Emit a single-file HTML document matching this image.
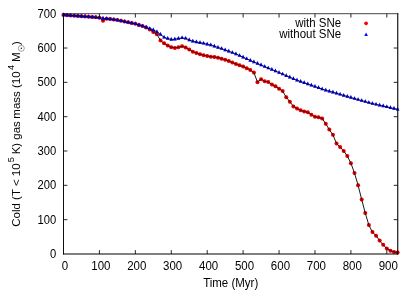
<!DOCTYPE html>
<html><head><meta charset="utf-8"><title>plot</title>
<style>html,body{margin:0;padding:0;background:#fff;}svg{display:block;}text{font-family:"Liberation Sans",sans-serif;font-size:11.5px;fill:#000;}</style></head>
<body>
<svg width="415" height="291" viewBox="0 0 415 291">
<rect width="415" height="291" fill="#fff"/>
<g fill="#ee0000">
<circle cx="63.50" cy="14.70" r="2.0"/><circle cx="67.09" cy="15.17" r="2.0"/><circle cx="70.68" cy="15.41" r="2.0"/><circle cx="74.28" cy="15.65" r="2.0"/><circle cx="77.87" cy="15.89" r="2.0"/><circle cx="81.46" cy="16.13" r="2.0"/><circle cx="85.05" cy="16.44" r="2.0"/><circle cx="88.65" cy="16.75" r="2.0"/><circle cx="92.24" cy="17.05" r="2.0"/><circle cx="95.83" cy="17.36" r="2.0"/><circle cx="99.42" cy="17.67" r="2.0"/><circle cx="103.02" cy="20.64" r="2.0"/><circle cx="106.61" cy="18.63" r="2.0"/><circle cx="110.20" cy="19.10" r="2.0"/><circle cx="113.79" cy="19.58" r="2.0"/><circle cx="117.39" cy="20.06" r="2.0"/><circle cx="120.98" cy="20.81" r="2.0"/><circle cx="124.57" cy="21.57" r="2.0"/><circle cx="128.16" cy="22.32" r="2.0"/><circle cx="131.76" cy="23.07" r="2.0"/><circle cx="135.35" cy="23.82" r="2.0"/><circle cx="138.94" cy="24.93" r="2.0"/><circle cx="142.53" cy="25.94" r="2.0"/><circle cx="146.13" cy="27.38" r="2.0"/><circle cx="149.72" cy="29.46" r="2.0"/><circle cx="153.31" cy="32.09" r="2.0"/><circle cx="156.90" cy="34.31" r="2.0"/><circle cx="160.50" cy="40.47" r="2.0"/><circle cx="164.09" cy="43.37" r="2.0"/><circle cx="167.68" cy="45.59" r="2.0"/><circle cx="171.27" cy="47.17" r="2.0"/><circle cx="174.87" cy="47.88" r="2.0"/><circle cx="178.46" cy="47.30" r="2.0"/><circle cx="182.05" cy="46.14" r="2.0"/><circle cx="185.64" cy="47.51" r="2.0"/><circle cx="189.24" cy="49.59" r="2.0"/><circle cx="192.83" cy="51.68" r="2.0"/><circle cx="196.42" cy="53.08" r="2.0"/><circle cx="200.01" cy="54.14" r="2.0"/><circle cx="203.61" cy="55.16" r="2.0"/><circle cx="207.20" cy="55.98" r="2.0"/><circle cx="210.79" cy="56.70" r="2.0"/><circle cx="214.38" cy="56.98" r="2.0"/><circle cx="217.98" cy="57.69" r="2.0"/><circle cx="221.57" cy="58.72" r="2.0"/><circle cx="225.16" cy="59.74" r="2.0"/><circle cx="228.75" cy="60.97" r="2.0"/><circle cx="232.35" cy="62.55" r="2.0"/><circle cx="235.94" cy="63.91" r="2.0"/><circle cx="239.53" cy="65.14" r="2.0"/><circle cx="243.12" cy="66.51" r="2.0"/><circle cx="246.72" cy="68.26" r="2.0"/><circle cx="250.31" cy="70.00" r="2.0"/><circle cx="253.90" cy="72.60" r="2.0"/><circle cx="257.49" cy="82.17" r="2.0"/><circle cx="261.09" cy="79.19" r="2.0"/><circle cx="264.68" cy="81.28" r="2.0"/><circle cx="268.27" cy="81.96" r="2.0"/><circle cx="271.86" cy="84.56" r="2.0"/><circle cx="275.46" cy="86.27" r="2.0"/><circle cx="279.05" cy="88.66" r="2.0"/><circle cx="282.64" cy="91.05" r="2.0"/><circle cx="286.23" cy="97.21" r="2.0"/><circle cx="289.83" cy="101.65" r="2.0"/><circle cx="293.42" cy="106.43" r="2.0"/><circle cx="297.01" cy="108.49" r="2.0"/><circle cx="300.60" cy="110.19" r="2.0"/><circle cx="304.20" cy="111.56" r="2.0"/><circle cx="307.79" cy="112.24" r="2.0"/><circle cx="311.38" cy="114.64" r="2.0"/><circle cx="314.97" cy="116.86" r="2.0"/><circle cx="318.57" cy="117.37" r="2.0"/><circle cx="322.16" cy="118.40" r="2.0"/><circle cx="325.75" cy="123.87" r="2.0"/><circle cx="329.34" cy="129.61" r="2.0"/><circle cx="332.94" cy="134.87" r="2.0"/><circle cx="336.53" cy="143.52" r="2.0"/><circle cx="340.12" cy="147.11" r="2.0"/><circle cx="343.71" cy="151.04" r="2.0"/><circle cx="347.31" cy="156.06" r="2.0"/><circle cx="350.90" cy="163.17" r="2.0"/><circle cx="354.49" cy="173.09" r="2.0"/><circle cx="358.08" cy="185.22" r="2.0"/><circle cx="361.68" cy="199.54" r="2.0"/><circle cx="365.27" cy="213.08" r="2.0"/><circle cx="368.86" cy="225.07" r="2.0"/><circle cx="372.45" cy="232.11" r="2.0"/><circle cx="376.05" cy="235.63" r="2.0"/><circle cx="379.64" cy="240.62" r="2.0"/><circle cx="383.23" cy="244.86" r="2.0"/><circle cx="386.82" cy="248.62" r="2.0"/><circle cx="390.42" cy="250.67" r="2.0"/><circle cx="394.01" cy="251.90" r="2.0"/><circle cx="397.60" cy="252.42" r="2.0"/>
</g>
<polyline fill="none" stroke="#000" stroke-width="0.9" points="63.50,14.70 67.09,15.17 70.68,15.41 74.28,15.65 77.87,15.89 81.46,16.13 85.05,16.44 88.65,16.75 92.24,17.05 95.83,17.36 99.42,17.67 103.02,20.64 106.61,18.63 110.20,19.10 113.79,19.58 117.39,20.06 120.98,20.81 124.57,21.57 128.16,22.32 131.76,23.07 135.35,23.82 138.94,24.93 142.53,25.94 146.13,27.38 149.72,29.46 153.31,32.09 156.90,34.31 160.50,40.47 164.09,43.37 167.68,45.59 171.27,47.17 174.87,47.88 178.46,47.30 182.05,46.14 185.64,47.51 189.24,49.59 192.83,51.68 196.42,53.08 200.01,54.14 203.61,55.16 207.20,55.98 210.79,56.70 214.38,56.98 217.98,57.69 221.57,58.72 225.16,59.74 228.75,60.97 232.35,62.55 235.94,63.91 239.53,65.14 243.12,66.51 246.72,68.26 250.31,70.00 253.90,72.60 257.49,82.17 261.09,79.19 264.68,81.28 268.27,81.96 271.86,84.56 275.46,86.27 279.05,88.66 282.64,91.05 286.23,97.21 289.83,101.65 293.42,106.43 297.01,108.49 300.60,110.19 304.20,111.56 307.79,112.24 311.38,114.64 314.97,116.86 318.57,117.37 322.16,118.40 325.75,123.87 329.34,129.61 332.94,134.87 336.53,143.52 340.12,147.11 343.71,151.04 347.31,156.06 350.90,163.17 354.49,173.09 358.08,185.22 361.68,199.54 365.27,213.08 368.86,225.07 372.45,232.11 376.05,235.63 379.64,240.62 383.23,244.86 386.82,248.62 390.42,250.67 394.01,251.90 397.60,252.42"/>
<g fill="#ee0000" fill-opacity="0.25">
<circle cx="63.50" cy="14.70" r="1.9"/><circle cx="67.09" cy="15.17" r="1.9"/><circle cx="70.68" cy="15.41" r="1.9"/><circle cx="74.28" cy="15.65" r="1.9"/><circle cx="77.87" cy="15.89" r="1.9"/><circle cx="81.46" cy="16.13" r="1.9"/><circle cx="85.05" cy="16.44" r="1.9"/><circle cx="88.65" cy="16.75" r="1.9"/><circle cx="92.24" cy="17.05" r="1.9"/><circle cx="95.83" cy="17.36" r="1.9"/><circle cx="99.42" cy="17.67" r="1.9"/><circle cx="103.02" cy="20.64" r="1.9"/><circle cx="106.61" cy="18.63" r="1.9"/><circle cx="110.20" cy="19.10" r="1.9"/><circle cx="113.79" cy="19.58" r="1.9"/><circle cx="117.39" cy="20.06" r="1.9"/><circle cx="120.98" cy="20.81" r="1.9"/><circle cx="124.57" cy="21.57" r="1.9"/><circle cx="128.16" cy="22.32" r="1.9"/><circle cx="131.76" cy="23.07" r="1.9"/><circle cx="135.35" cy="23.82" r="1.9"/><circle cx="138.94" cy="24.93" r="1.9"/><circle cx="142.53" cy="25.94" r="1.9"/><circle cx="146.13" cy="27.38" r="1.9"/><circle cx="149.72" cy="29.46" r="1.9"/><circle cx="153.31" cy="32.09" r="1.9"/><circle cx="156.90" cy="34.31" r="1.9"/><circle cx="160.50" cy="40.47" r="1.9"/><circle cx="164.09" cy="43.37" r="1.9"/><circle cx="167.68" cy="45.59" r="1.9"/><circle cx="171.27" cy="47.17" r="1.9"/><circle cx="174.87" cy="47.88" r="1.9"/><circle cx="178.46" cy="47.30" r="1.9"/><circle cx="182.05" cy="46.14" r="1.9"/><circle cx="185.64" cy="47.51" r="1.9"/><circle cx="189.24" cy="49.59" r="1.9"/><circle cx="192.83" cy="51.68" r="1.9"/><circle cx="196.42" cy="53.08" r="1.9"/><circle cx="200.01" cy="54.14" r="1.9"/><circle cx="203.61" cy="55.16" r="1.9"/><circle cx="207.20" cy="55.98" r="1.9"/><circle cx="210.79" cy="56.70" r="1.9"/><circle cx="214.38" cy="56.98" r="1.9"/><circle cx="217.98" cy="57.69" r="1.9"/><circle cx="221.57" cy="58.72" r="1.9"/><circle cx="225.16" cy="59.74" r="1.9"/><circle cx="228.75" cy="60.97" r="1.9"/><circle cx="232.35" cy="62.55" r="1.9"/><circle cx="235.94" cy="63.91" r="1.9"/><circle cx="239.53" cy="65.14" r="1.9"/><circle cx="243.12" cy="66.51" r="1.9"/><circle cx="246.72" cy="68.26" r="1.9"/><circle cx="250.31" cy="70.00" r="1.9"/><circle cx="253.90" cy="72.60" r="1.9"/><circle cx="257.49" cy="82.17" r="1.9"/><circle cx="261.09" cy="79.19" r="1.9"/><circle cx="264.68" cy="81.28" r="1.9"/><circle cx="268.27" cy="81.96" r="1.9"/><circle cx="271.86" cy="84.56" r="1.9"/><circle cx="275.46" cy="86.27" r="1.9"/><circle cx="279.05" cy="88.66" r="1.9"/><circle cx="282.64" cy="91.05" r="1.9"/><circle cx="286.23" cy="97.21" r="1.9"/><circle cx="289.83" cy="101.65" r="1.9"/><circle cx="293.42" cy="106.43" r="1.9"/><circle cx="297.01" cy="108.49" r="1.9"/><circle cx="300.60" cy="110.19" r="1.9"/><circle cx="304.20" cy="111.56" r="1.9"/><circle cx="307.79" cy="112.24" r="1.9"/><circle cx="311.38" cy="114.64" r="1.9"/><circle cx="314.97" cy="116.86" r="1.9"/><circle cx="318.57" cy="117.37" r="1.9"/><circle cx="322.16" cy="118.40" r="1.9"/><circle cx="325.75" cy="123.87" r="1.9"/><circle cx="329.34" cy="129.61" r="1.9"/><circle cx="332.94" cy="134.87" r="1.9"/><circle cx="336.53" cy="143.52" r="1.9"/><circle cx="340.12" cy="147.11" r="1.9"/><circle cx="343.71" cy="151.04" r="1.9"/><circle cx="347.31" cy="156.06" r="1.9"/><circle cx="350.90" cy="163.17" r="1.9"/><circle cx="354.49" cy="173.09" r="1.9"/><circle cx="358.08" cy="185.22" r="1.9"/><circle cx="361.68" cy="199.54" r="1.9"/><circle cx="365.27" cy="213.08" r="1.9"/><circle cx="368.86" cy="225.07" r="1.9"/><circle cx="372.45" cy="232.11" r="1.9"/><circle cx="376.05" cy="235.63" r="1.9"/><circle cx="379.64" cy="240.62" r="1.9"/><circle cx="383.23" cy="244.86" r="1.9"/><circle cx="386.82" cy="248.62" r="1.9"/><circle cx="390.42" cy="250.67" r="1.9"/><circle cx="394.01" cy="251.90" r="1.9"/><circle cx="397.60" cy="252.42" r="1.9"/>
</g>
<g fill="#0000f0">
<path d="M63.50 12.54L65.35 16.19L61.65 16.19Z"/><path d="M67.09 12.78L68.94 16.43L65.24 16.43Z"/><path d="M70.68 13.02L72.53 16.67L68.83 16.67Z"/><path d="M74.28 13.26L76.13 16.91L72.43 16.91Z"/><path d="M77.87 13.50L79.72 17.15L76.02 17.15Z"/><path d="M81.46 13.74L83.31 17.39L79.61 17.39Z"/><path d="M85.05 14.04L86.90 17.69L83.20 17.69Z"/><path d="M88.65 14.35L90.50 18.00L86.80 18.00Z"/><path d="M92.24 14.66L94.09 18.31L90.39 18.31Z"/><path d="M95.83 14.97L97.68 18.62L93.98 18.62Z"/><path d="M99.42 15.27L101.27 18.92L97.57 18.92Z"/><path d="M103.02 15.75L104.87 19.40L101.17 19.40Z"/><path d="M106.61 16.23L108.46 19.88L104.76 19.88Z"/><path d="M110.20 16.71L112.05 20.36L108.35 20.36Z"/><path d="M113.79 17.19L115.64 20.84L111.94 20.84Z"/><path d="M117.39 17.67L119.24 21.32L115.54 21.32Z"/><path d="M120.98 18.42L122.83 22.07L119.13 22.07Z"/><path d="M124.57 19.17L126.42 22.82L122.72 22.82Z"/><path d="M128.16 19.92L130.01 23.57L126.31 23.57Z"/><path d="M131.76 20.67L133.61 24.32L129.91 24.32Z"/><path d="M135.35 21.43L137.20 25.08L133.50 25.08Z"/><path d="M138.94 22.54L140.79 26.19L137.09 26.19Z"/><path d="M142.53 23.65L144.38 27.30L140.68 27.30Z"/><path d="M146.13 24.84L147.98 28.49L144.28 28.49Z"/><path d="M149.72 26.21L151.57 29.86L147.87 29.86Z"/><path d="M153.31 27.58L155.16 31.23L151.46 31.23Z"/><path d="M156.90 29.42L158.75 33.07L155.05 33.07Z"/><path d="M160.50 32.02L162.35 35.67L158.65 35.67Z"/><path d="M164.09 34.93L165.94 38.58L162.24 38.58Z"/><path d="M167.68 36.12L169.53 39.77L165.83 39.77Z"/><path d="M171.27 36.98L173.12 40.63L169.42 40.63Z"/><path d="M174.87 36.81L176.72 40.46L173.02 40.46Z"/><path d="M178.46 36.12L180.31 39.77L176.61 39.77Z"/><path d="M182.05 35.44L183.90 39.09L180.20 39.09Z"/><path d="M185.64 35.95L187.49 39.60L183.79 39.60Z"/><path d="M189.24 37.49L191.09 41.14L187.39 41.14Z"/><path d="M192.83 38.86L194.68 42.51L190.98 42.51Z"/><path d="M196.42 39.54L198.27 43.19L194.57 43.19Z"/><path d="M200.01 40.23L201.86 43.88L198.16 43.88Z"/><path d="M203.61 40.91L205.46 44.56L201.76 44.56Z"/><path d="M207.20 41.76L209.05 45.41L205.35 45.41Z"/><path d="M210.79 42.62L212.64 46.27L208.94 46.27Z"/><path d="M214.38 43.81L216.23 47.46L212.53 47.46Z"/><path d="M217.98 45.01L219.83 48.66L216.13 48.66Z"/><path d="M221.57 46.21L223.42 49.86L219.72 49.86Z"/><path d="M225.16 47.53L227.01 51.18L223.31 51.18Z"/><path d="M228.75 48.86L230.60 52.51L226.90 52.51Z"/><path d="M232.35 50.18L234.20 53.83L230.50 53.83Z"/><path d="M235.94 51.51L237.79 55.16L234.09 55.16Z"/><path d="M239.53 53.13L241.38 56.78L237.68 56.78Z"/><path d="M243.12 54.75L244.97 58.40L241.27 58.40Z"/><path d="M246.72 56.38L248.57 60.03L244.87 60.03Z"/><path d="M250.31 58.00L252.16 61.65L248.46 61.65Z"/><path d="M253.90 59.54L255.75 63.19L252.05 63.19Z"/><path d="M257.49 61.08L259.34 64.73L255.64 64.73Z"/><path d="M261.09 62.61L262.94 66.26L259.24 66.26Z"/><path d="M264.68 64.15L266.53 67.80L262.83 67.80Z"/><path d="M268.27 65.63L270.12 69.28L266.42 69.28Z"/><path d="M271.86 67.11L273.71 70.76L270.01 70.76Z"/><path d="M275.46 68.60L277.31 72.25L273.61 72.25Z"/><path d="M279.05 70.15L280.90 73.80L277.20 73.80Z"/><path d="M282.64 71.70L284.49 75.35L280.79 75.35Z"/><path d="M286.23 73.26L288.08 76.91L284.38 76.91Z"/><path d="M289.83 74.81L291.68 78.46L287.98 78.46Z"/><path d="M293.42 76.36L295.27 80.01L291.57 80.01Z"/><path d="M297.01 77.77L298.86 81.42L295.16 81.42Z"/><path d="M300.60 79.04L302.45 82.69L298.75 82.69Z"/><path d="M304.20 80.31L306.05 83.96L302.35 83.96Z"/><path d="M307.79 81.57L309.64 85.22L305.94 85.22Z"/><path d="M311.38 82.84L313.23 86.49L309.53 86.49Z"/><path d="M314.97 84.10L316.82 87.75L313.12 87.75Z"/><path d="M318.57 85.37L320.42 89.02L316.72 89.02Z"/><path d="M322.16 86.63L324.01 90.28L320.31 90.28Z"/><path d="M325.75 87.78L327.60 91.43L323.90 91.43Z"/><path d="M329.34 88.74L331.19 92.39L327.49 92.39Z"/><path d="M332.94 89.79L334.79 93.44L331.09 93.44Z"/><path d="M336.53 90.85L338.38 94.50L334.68 94.50Z"/><path d="M340.12 91.92L341.97 95.57L338.27 95.57Z"/><path d="M343.71 92.99L345.56 96.64L341.86 96.64Z"/><path d="M347.31 94.05L349.16 97.70L345.46 97.70Z"/><path d="M350.90 95.12L352.75 98.77L349.05 98.77Z"/><path d="M354.49 96.13L356.34 99.78L352.64 99.78Z"/><path d="M358.08 97.15L359.93 100.80L356.23 100.80Z"/><path d="M361.68 98.16L363.53 101.81L359.83 101.81Z"/><path d="M365.27 99.17L367.12 102.82L363.42 102.82Z"/><path d="M368.86 100.19L370.71 103.84L367.01 103.84Z"/><path d="M372.45 101.14L374.30 104.79L370.60 104.79Z"/><path d="M376.05 101.96L377.90 105.61L374.20 105.61Z"/><path d="M379.64 102.78L381.49 106.43L377.79 106.43Z"/><path d="M383.23 103.60L385.08 107.25L381.38 107.25Z"/><path d="M386.82 104.42L388.67 108.07L384.97 108.07Z"/><path d="M390.42 105.24L392.27 108.89L388.57 108.89Z"/><path d="M394.01 106.06L395.86 109.71L392.16 109.71Z"/><path d="M397.60 106.88L399.45 110.53L395.75 110.53Z"/>
</g>
<polyline fill="none" stroke="#000" stroke-width="0.9" points="63.50,14.99 67.09,15.23 70.68,15.47 74.28,15.71 77.87,15.95 81.46,16.19 85.05,16.49 88.65,16.80 92.24,17.11 95.83,17.42 99.42,17.72 103.02,18.20 106.61,18.68 110.20,19.16 113.79,19.64 117.39,20.12 120.98,20.87 124.57,21.62 128.16,22.37 131.76,23.12 135.35,23.88 138.94,24.99 142.53,26.10 146.13,27.29 149.72,28.66 153.31,30.03 156.90,31.87 160.50,34.47 164.09,37.38 167.68,38.57 171.27,39.43 174.87,39.26 178.46,38.57 182.05,37.89 185.64,38.40 189.24,39.94 192.83,41.31 196.42,41.99 200.01,42.68 203.61,43.36 207.20,44.21 210.79,45.07 214.38,46.26 217.98,47.46 221.57,48.66 225.16,49.98 228.75,51.31 232.35,52.63 235.94,53.96 239.53,55.58 243.12,57.20 246.72,58.83 250.31,60.45 253.90,61.99 257.49,63.53 261.09,65.06 264.68,66.60 268.27,68.08 271.86,69.56 275.46,71.05 279.05,72.60 282.64,74.15 286.23,75.71 289.83,77.26 293.42,78.81 297.01,80.22 300.60,81.49 304.20,82.76 307.79,84.02 311.38,85.29 314.97,86.55 318.57,87.82 322.16,89.08 325.75,90.23 329.34,91.19 332.94,92.24 336.53,93.30 340.12,94.37 343.71,95.44 347.31,96.50 350.90,97.57 354.49,98.58 358.08,99.60 361.68,100.61 365.27,101.62 368.86,102.64 372.45,103.59 376.05,104.41 379.64,105.23 383.23,106.05 386.82,106.87 390.42,107.69 394.01,108.51 397.60,109.33"/>
<g fill="#0000f0" fill-opacity="0.4">
<path d="M63.50 12.54L65.35 16.19L61.65 16.19Z"/><path d="M67.09 12.78L68.94 16.43L65.24 16.43Z"/><path d="M70.68 13.02L72.53 16.67L68.83 16.67Z"/><path d="M74.28 13.26L76.13 16.91L72.43 16.91Z"/><path d="M77.87 13.50L79.72 17.15L76.02 17.15Z"/><path d="M81.46 13.74L83.31 17.39L79.61 17.39Z"/><path d="M85.05 14.04L86.90 17.69L83.20 17.69Z"/><path d="M88.65 14.35L90.50 18.00L86.80 18.00Z"/><path d="M92.24 14.66L94.09 18.31L90.39 18.31Z"/><path d="M95.83 14.97L97.68 18.62L93.98 18.62Z"/><path d="M99.42 15.27L101.27 18.92L97.57 18.92Z"/><path d="M103.02 15.75L104.87 19.40L101.17 19.40Z"/><path d="M106.61 16.23L108.46 19.88L104.76 19.88Z"/><path d="M110.20 16.71L112.05 20.36L108.35 20.36Z"/><path d="M113.79 17.19L115.64 20.84L111.94 20.84Z"/><path d="M117.39 17.67L119.24 21.32L115.54 21.32Z"/><path d="M120.98 18.42L122.83 22.07L119.13 22.07Z"/><path d="M124.57 19.17L126.42 22.82L122.72 22.82Z"/><path d="M128.16 19.92L130.01 23.57L126.31 23.57Z"/><path d="M131.76 20.67L133.61 24.32L129.91 24.32Z"/><path d="M135.35 21.43L137.20 25.08L133.50 25.08Z"/><path d="M138.94 22.54L140.79 26.19L137.09 26.19Z"/><path d="M142.53 23.65L144.38 27.30L140.68 27.30Z"/><path d="M146.13 24.84L147.98 28.49L144.28 28.49Z"/><path d="M149.72 26.21L151.57 29.86L147.87 29.86Z"/><path d="M153.31 27.58L155.16 31.23L151.46 31.23Z"/><path d="M156.90 29.42L158.75 33.07L155.05 33.07Z"/><path d="M160.50 32.02L162.35 35.67L158.65 35.67Z"/><path d="M164.09 34.93L165.94 38.58L162.24 38.58Z"/><path d="M167.68 36.12L169.53 39.77L165.83 39.77Z"/><path d="M171.27 36.98L173.12 40.63L169.42 40.63Z"/><path d="M174.87 36.81L176.72 40.46L173.02 40.46Z"/><path d="M178.46 36.12L180.31 39.77L176.61 39.77Z"/><path d="M182.05 35.44L183.90 39.09L180.20 39.09Z"/><path d="M185.64 35.95L187.49 39.60L183.79 39.60Z"/><path d="M189.24 37.49L191.09 41.14L187.39 41.14Z"/><path d="M192.83 38.86L194.68 42.51L190.98 42.51Z"/><path d="M196.42 39.54L198.27 43.19L194.57 43.19Z"/><path d="M200.01 40.23L201.86 43.88L198.16 43.88Z"/><path d="M203.61 40.91L205.46 44.56L201.76 44.56Z"/><path d="M207.20 41.76L209.05 45.41L205.35 45.41Z"/><path d="M210.79 42.62L212.64 46.27L208.94 46.27Z"/><path d="M214.38 43.81L216.23 47.46L212.53 47.46Z"/><path d="M217.98 45.01L219.83 48.66L216.13 48.66Z"/><path d="M221.57 46.21L223.42 49.86L219.72 49.86Z"/><path d="M225.16 47.53L227.01 51.18L223.31 51.18Z"/><path d="M228.75 48.86L230.60 52.51L226.90 52.51Z"/><path d="M232.35 50.18L234.20 53.83L230.50 53.83Z"/><path d="M235.94 51.51L237.79 55.16L234.09 55.16Z"/><path d="M239.53 53.13L241.38 56.78L237.68 56.78Z"/><path d="M243.12 54.75L244.97 58.40L241.27 58.40Z"/><path d="M246.72 56.38L248.57 60.03L244.87 60.03Z"/><path d="M250.31 58.00L252.16 61.65L248.46 61.65Z"/><path d="M253.90 59.54L255.75 63.19L252.05 63.19Z"/><path d="M257.49 61.08L259.34 64.73L255.64 64.73Z"/><path d="M261.09 62.61L262.94 66.26L259.24 66.26Z"/><path d="M264.68 64.15L266.53 67.80L262.83 67.80Z"/><path d="M268.27 65.63L270.12 69.28L266.42 69.28Z"/><path d="M271.86 67.11L273.71 70.76L270.01 70.76Z"/><path d="M275.46 68.60L277.31 72.25L273.61 72.25Z"/><path d="M279.05 70.15L280.90 73.80L277.20 73.80Z"/><path d="M282.64 71.70L284.49 75.35L280.79 75.35Z"/><path d="M286.23 73.26L288.08 76.91L284.38 76.91Z"/><path d="M289.83 74.81L291.68 78.46L287.98 78.46Z"/><path d="M293.42 76.36L295.27 80.01L291.57 80.01Z"/><path d="M297.01 77.77L298.86 81.42L295.16 81.42Z"/><path d="M300.60 79.04L302.45 82.69L298.75 82.69Z"/><path d="M304.20 80.31L306.05 83.96L302.35 83.96Z"/><path d="M307.79 81.57L309.64 85.22L305.94 85.22Z"/><path d="M311.38 82.84L313.23 86.49L309.53 86.49Z"/><path d="M314.97 84.10L316.82 87.75L313.12 87.75Z"/><path d="M318.57 85.37L320.42 89.02L316.72 89.02Z"/><path d="M322.16 86.63L324.01 90.28L320.31 90.28Z"/><path d="M325.75 87.78L327.60 91.43L323.90 91.43Z"/><path d="M329.34 88.74L331.19 92.39L327.49 92.39Z"/><path d="M332.94 89.79L334.79 93.44L331.09 93.44Z"/><path d="M336.53 90.85L338.38 94.50L334.68 94.50Z"/><path d="M340.12 91.92L341.97 95.57L338.27 95.57Z"/><path d="M343.71 92.99L345.56 96.64L341.86 96.64Z"/><path d="M347.31 94.05L349.16 97.70L345.46 97.70Z"/><path d="M350.90 95.12L352.75 98.77L349.05 98.77Z"/><path d="M354.49 96.13L356.34 99.78L352.64 99.78Z"/><path d="M358.08 97.15L359.93 100.80L356.23 100.80Z"/><path d="M361.68 98.16L363.53 101.81L359.83 101.81Z"/><path d="M365.27 99.17L367.12 102.82L363.42 102.82Z"/><path d="M368.86 100.19L370.71 103.84L367.01 103.84Z"/><path d="M372.45 101.14L374.30 104.79L370.60 104.79Z"/><path d="M376.05 101.96L377.90 105.61L374.20 105.61Z"/><path d="M379.64 102.78L381.49 106.43L377.79 106.43Z"/><path d="M383.23 103.60L385.08 107.25L381.38 107.25Z"/><path d="M386.82 104.42L388.67 108.07L384.97 108.07Z"/><path d="M390.42 105.24L392.27 108.89L388.57 108.89Z"/><path d="M394.01 106.06L395.86 109.71L392.16 109.71Z"/><path d="M397.60 106.88L399.45 110.53L395.75 110.53Z"/>
</g>
<g stroke="#000" stroke-width="0.85" fill="none">
<path d="M63.50 13.30V254.50" stroke-width="0.95"/><path d="M397.75 13.30V254.50" stroke-width="1.1"/><path d="M63.10 13.70H398.20" stroke-width="0.72"/><path d="M63.10 254.00H398.20" stroke-width="1.0"/>
<path d="M99.42 254.00V250.10 M99.42 13.70V17.60"/><path d="M135.35 254.00V250.10 M135.35 13.70V17.60"/><path d="M171.27 254.00V250.10 M171.27 13.70V17.60"/><path d="M207.20 254.00V250.10 M207.20 13.70V17.60"/><path d="M243.12 254.00V250.10 M243.12 13.70V17.60"/><path d="M279.05 254.00V250.10 M279.05 13.70V17.60"/><path d="M314.97 254.00V250.10 M314.97 13.70V17.60"/><path d="M350.90 254.00V250.10 M350.90 13.70V17.60"/><path d="M386.82 254.00V250.10 M386.82 13.70V17.60"/><path d="M63.50 219.67H67.40 M397.60 219.67H393.70"/><path d="M63.50 185.34H67.40 M397.60 185.34H393.70"/><path d="M63.50 151.01H67.40 M397.60 151.01H393.70"/><path d="M63.50 116.69H67.40 M397.60 116.69H393.70"/><path d="M63.50 82.36H67.40 M397.60 82.36H393.70"/><path d="M63.50 48.03H67.40 M397.60 48.03H393.70"/>
</g>
<g opacity="0.999">
<text transform="translate(64.90,269.50) scale(0.958,1)" style="font-size:12.0px" text-anchor="middle">0</text><text transform="translate(100.82,269.50) scale(0.958,1)" style="font-size:12.0px" text-anchor="middle">100</text><text transform="translate(136.75,269.50) scale(0.958,1)" style="font-size:12.0px" text-anchor="middle">200</text><text transform="translate(172.67,269.50) scale(0.958,1)" style="font-size:12.0px" text-anchor="middle">300</text><text transform="translate(208.60,269.50) scale(0.958,1)" style="font-size:12.0px" text-anchor="middle">400</text><text transform="translate(244.52,269.50) scale(0.958,1)" style="font-size:12.0px" text-anchor="middle">500</text><text transform="translate(280.45,269.50) scale(0.958,1)" style="font-size:12.0px" text-anchor="middle">600</text><text transform="translate(316.37,269.50) scale(0.958,1)" style="font-size:12.0px" text-anchor="middle">700</text><text transform="translate(352.30,269.50) scale(0.958,1)" style="font-size:12.0px" text-anchor="middle">800</text><text transform="translate(388.22,269.50) scale(0.958,1)" style="font-size:12.0px" text-anchor="middle">900</text>
<text transform="translate(56.15,258.00) scale(0.935,1)" style="font-size:12.0px" text-anchor="end">0</text><text transform="translate(56.15,223.67) scale(0.935,1)" style="font-size:12.0px" text-anchor="end">100</text><text transform="translate(56.15,189.34) scale(0.935,1)" style="font-size:12.0px" text-anchor="end">200</text><text transform="translate(56.15,155.01) scale(0.935,1)" style="font-size:12.0px" text-anchor="end">300</text><text transform="translate(56.15,120.69) scale(0.935,1)" style="font-size:12.0px" text-anchor="end">400</text><text transform="translate(56.15,86.36) scale(0.935,1)" style="font-size:12.0px" text-anchor="end">500</text><text transform="translate(56.15,52.03) scale(0.935,1)" style="font-size:12.0px" text-anchor="end">600</text><text transform="translate(56.15,17.70) scale(0.935,1)" style="font-size:12.0px" text-anchor="end">700</text>
<text transform="translate(230.70,286.50) scale(0.958,1)" style="font-size:12.0px" text-anchor="middle">Time (Myr)</text>
<text transform="translate(341.20,27.20) scale(0.958,1)" style="font-size:12.0px" text-anchor="end">with SNe</text><text transform="translate(341.20,38.30) scale(0.958,1)" style="font-size:12.0px" text-anchor="end">without SNe</text>
<g transform="translate(20.00,226.80) rotate(-90) scale(1,1.000)"><text x="0.00" y="0.00" style="font-size:11.5px;white-space:pre" xml:space="preserve">Cold (T &lt; 10</text><text x="64.50" y="-6.20" style="font-size:9.2px;white-space:pre" xml:space="preserve">5</text><text x="69.30" y="0.00" style="font-size:11.44px;white-space:pre" xml:space="preserve"> K) gas</text><text x="104.95" y="0.00" style="font-size:11.5px;white-space:pre" xml:space="preserve"> mass (10</text><text x="156.90" y="-6.20" style="font-size:9.2px;white-space:pre" xml:space="preserve">4</text><text x="161.50" y="0.00" style="font-size:11.5px;white-space:pre" xml:space="preserve"> M</text><text x="181.80" y="0.00" style="font-size:11.5px;white-space:pre" xml:space="preserve">)</text><circle cx="178.5" cy="1.3" r="3.0" fill="none" stroke="#333" stroke-width="0.45"/><circle cx="178.5" cy="1.3" r="0.7" fill="#000"/></g>
</g>
<circle cx="366.1" cy="23.3" r="1.85" fill="#ff0000"/>
<path fill="#0000ff" d="M366.10 32.40L367.90 35.90L364.30 35.90Z"/>
</svg>
</body></html>
